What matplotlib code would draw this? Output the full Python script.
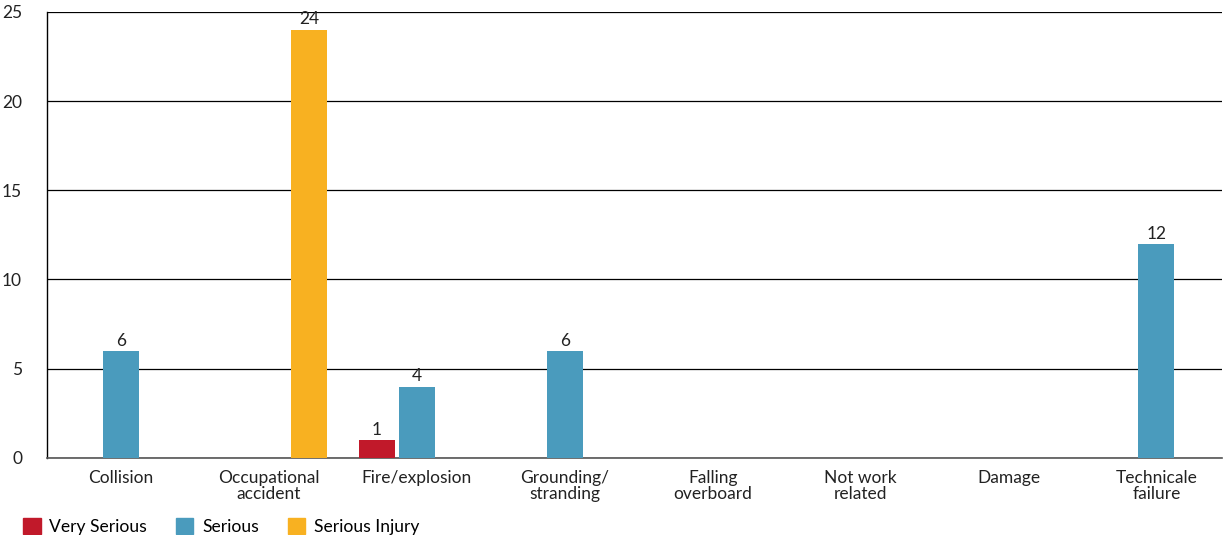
import numpy as np
import matplotlib.pyplot as plt
from matplotlib.patches import Patch

plt.rcParams['font.family'] = ['Lato', 'DejaVu Sans']

## data
categories = ['Collision', 'Occupational\naccident', 'Fire/explosion', 'Grounding/\nstranding',
              'Falling\noverboard', 'Not work\nrelated', 'Damage', 'Technicale\nfailure']
very_serious = [0, 0, 1, 0, 0, 0, 0, 0]
serious = [6, 0, 4, 6, 0, 0, 0, 12]
serious_injury = [0, 24, 0, 0, 0, 0, 0, 0]

series = [('Very Serious', very_serious, '#C1192A'),
          ('Serious', serious, '#4A9BBD'),
          ('Serious Injury', serious_injury, '#F8B121')]

fig = plt.figure(figsize=(12.24, 5.35), dpi=100)
ax = fig.add_axes([0.0384, 0.144, 0.9596, 0.834])

x = np.arange(len(categories))
w = 0.243
step = 0.27
for k, (name, vals, col) in enumerate(series):
    pos = x + (k - 1) * step
    ax.bar(pos, vals, width=w, color=col, zorder=3)
    for p, v in zip(pos, vals):
        if v > 0:
            ax.text(p, v + 0.12, str(v), ha='center', va='bottom', fontsize=12.5, color='#222222')

ax.set_xlim(-0.5, 7.44)
ax.set_ylim(0, 25)
ax.set_yticks([0, 5, 10, 15, 20, 25])
ax.set_xticks(x)
ax.set_xticklabels(categories, fontsize=12.5, linespacing=0.95, color='#222222')
ax.tick_params(axis='both', length=0, colors='#222222')
ax.tick_params(axis='y', labelsize=12.5, pad=18)
ax.tick_params(axis='x', pad=9)
ax.grid(axis='y', color='black', linewidth=0.9, zorder=0)
for s in ['top', 'right']:
    ax.spines[s].set_visible(False)
ax.spines['left'].set_color('black')
ax.spines['left'].set_linewidth(1.0)
ax.spines['bottom'].set_color('#555555')
ax.spines['bottom'].set_linewidth(1.2)

handles = [Patch(color=c, label=n) for n, _, c in series]
fig.legend(handles=handles, loc='lower left', bbox_to_anchor=(0.006, -0.03), ncol=3,
           frameon=False, fontsize=12.6, handlelength=1.0, handleheight=1.0,
           handletextpad=0.5, columnspacing=1.65)

fig.savefig('out.png', dpi=100)
